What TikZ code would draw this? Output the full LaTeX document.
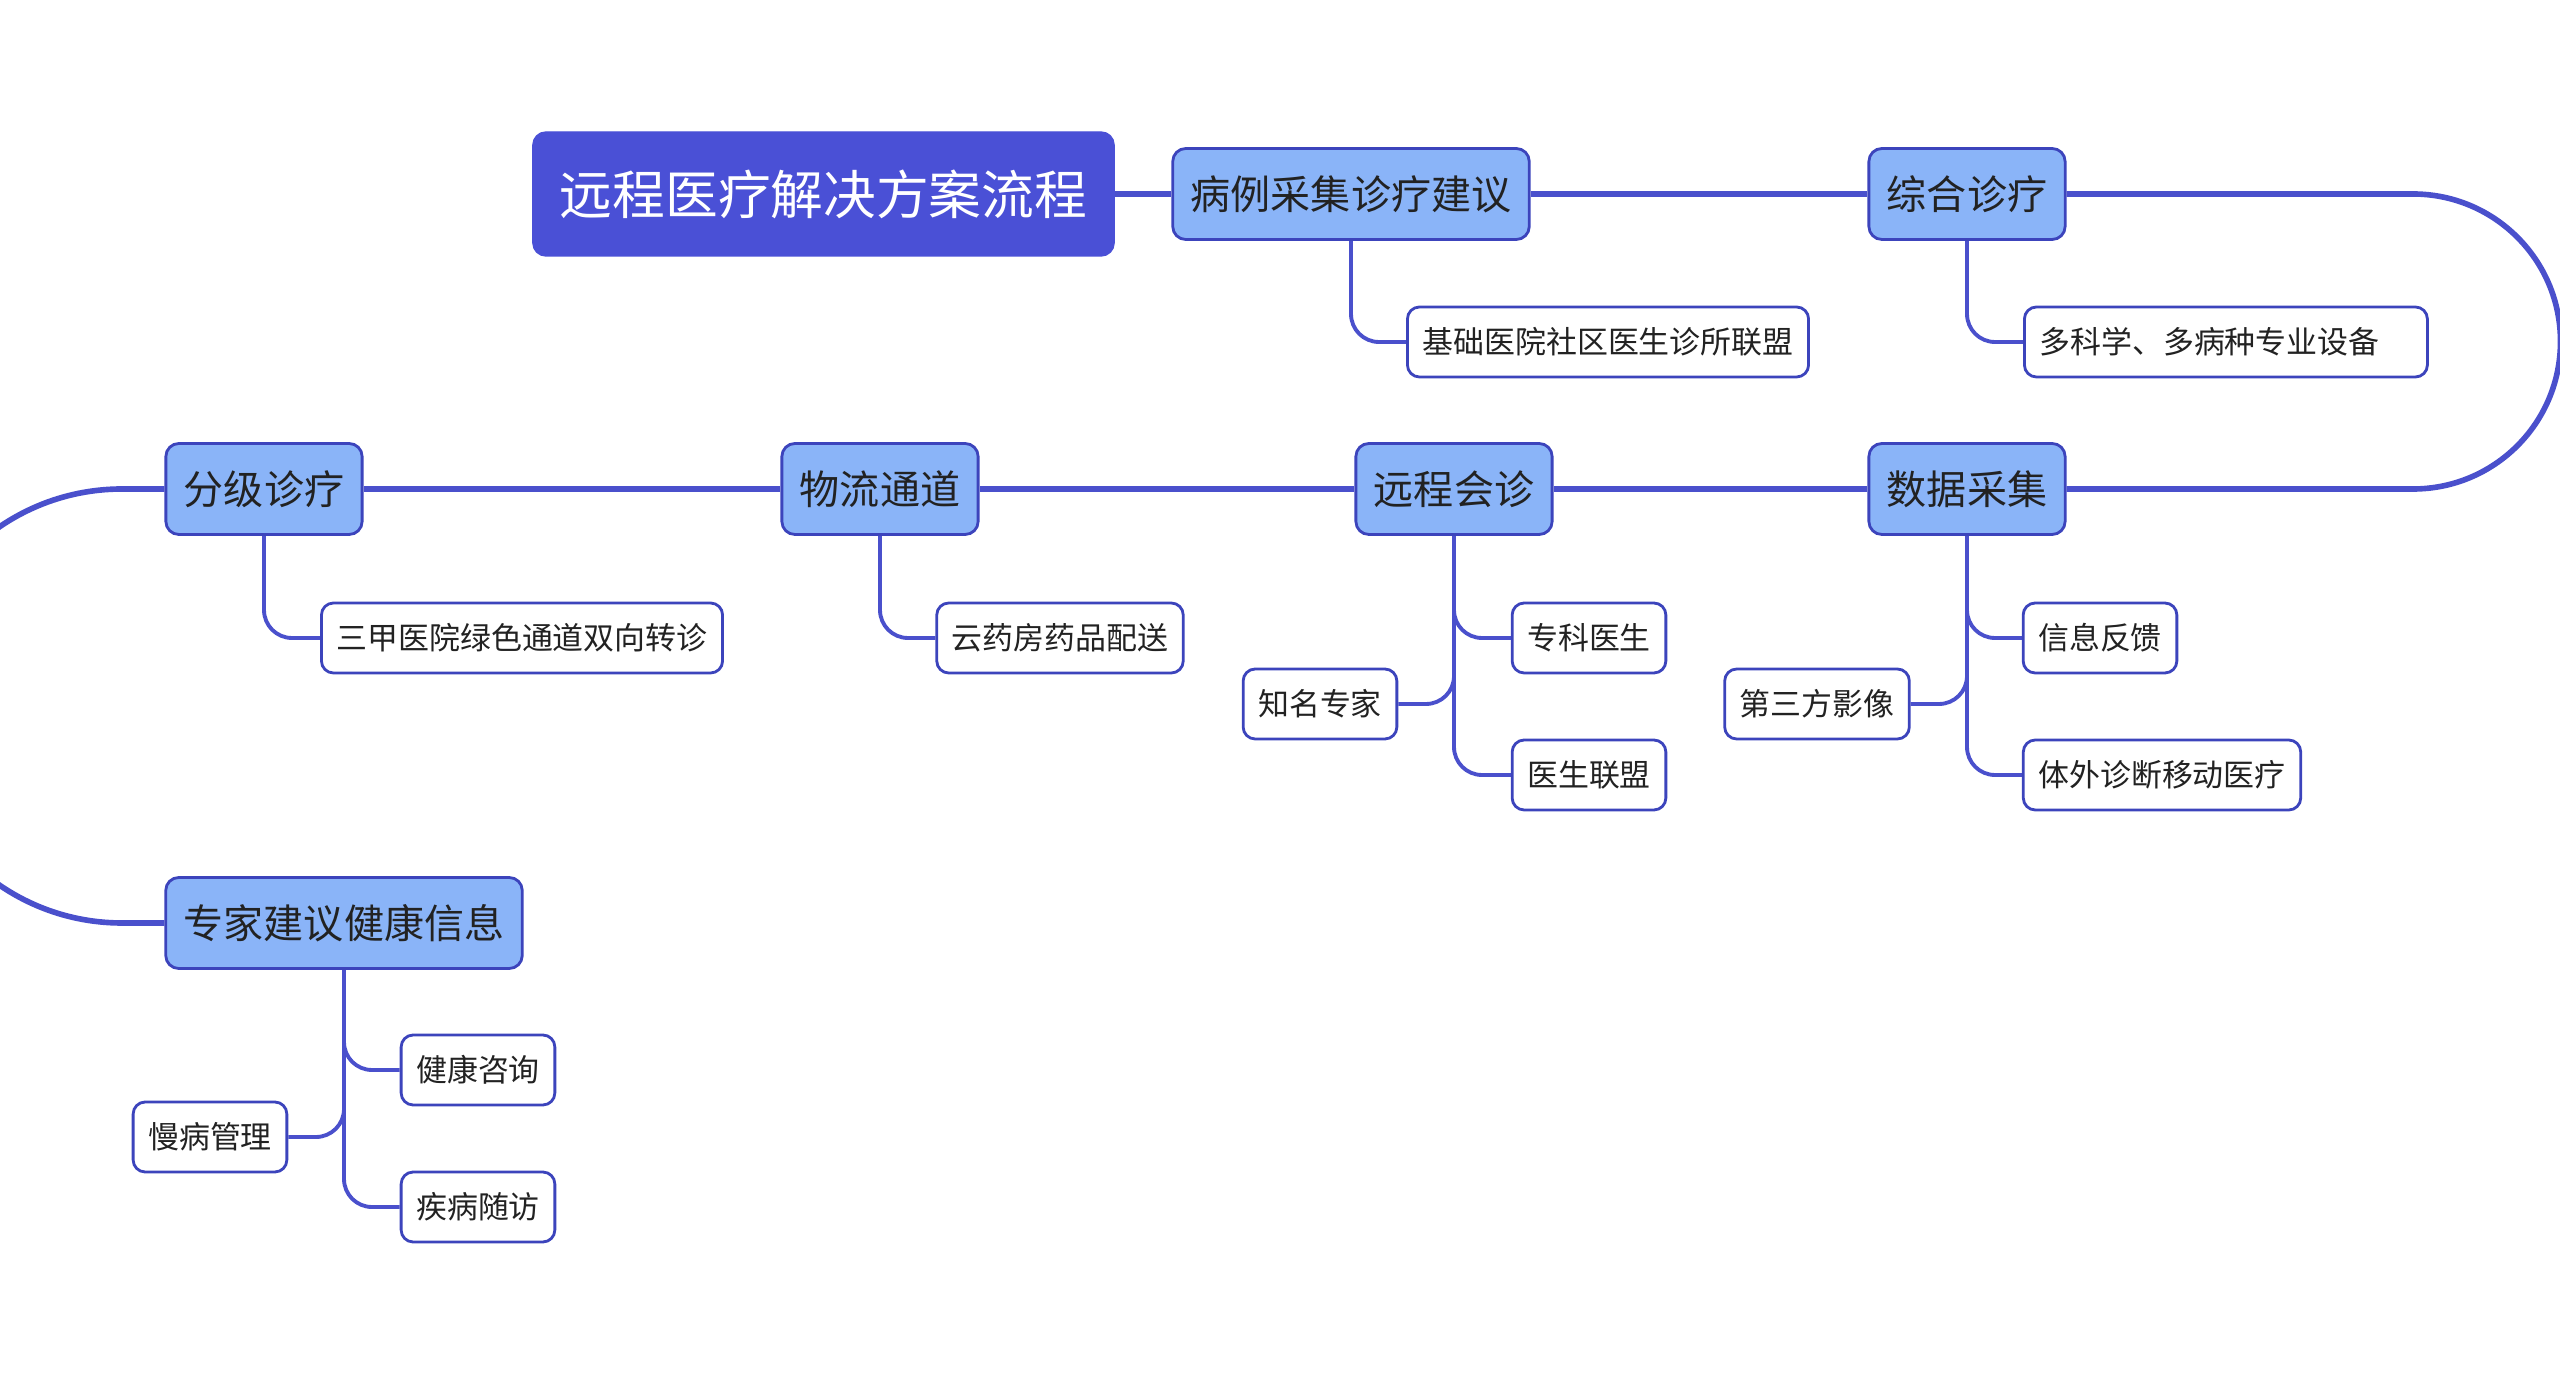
\documentclass[tikz,border=0pt]{standalone}
\usepackage{fontspec}
\usepackage{tikz}
\usetikzlibrary{backgrounds,calc}
\setmainfont{Noto Sans CJK SC}
\definecolor{titleblue}{HTML}{4A50D6}
\definecolor{topicblue}{HTML}{8AB4F8}
\definecolor{edgeblue}{HTML}{3C44BC}
\definecolor{lineblue}{HTML}{4A50CC}
\definecolor{ink}{HTML}{222222}
\tikzset{
  title/.style={rectangle, rounded corners=0.13cm, fill=titleblue, draw=titleblue, text=white,
    font=\fontsize{15}{17}\selectfont, inner xsep=0.27cm, minimum height=1.24cm},
  topic/.style={rectangle, rounded corners=0.13cm, fill=topicblue, draw=edgeblue, line width=0.8pt,
    text=ink, font=\fontsize{11.4}{13}\selectfont, inner xsep=0.18cm, minimum height=0.91cm},
  subtopic/.style={rectangle, rounded corners=0.12cm, fill=white, draw=edgeblue, line width=0.8pt,
    text=ink, font=\fontsize{8.8}{10}\selectfont, inner xsep=0.15cm, minimum height=0.70cm},
  link/.style={draw=lineblue, line width=1.6pt},
  sublink/.style={draw=lineblue, line width=1.1pt, rounded corners=0.28cm}
}

\begin{document}
\begin{tikzpicture}
\useasboundingbox (0cm,0cm) rectangle (25.6cm,-13.75cm);
\begin{scope}
\clip (0cm,0cm) rectangle (25.6cm,-13.75cm);
% main topics
\node[title] (root) at (8.235cm,-1.94cm) {远程医疗解决方案流程};
\node[topic] (bingli) at (13.51cm,-1.94cm) {病例采集诊疗建议};
\node[topic] (zonghe) at (19.67cm,-1.94cm) {综合诊疗};
\node[topic] (shuju) at (19.67cm,-4.89cm) {数据采集};
\node[topic] (huizhen) at (14.54cm,-4.89cm) {远程会诊};
\node[topic] (wuliu) at (8.80cm,-4.89cm) {物流通道};
\node[topic] (fenji) at (2.64cm,-4.89cm) {分级诊疗};
\node[topic] (jianyi) at (3.44cm,-9.23cm) {专家建议健康信息};
% sub topics
\node[subtopic] (jichu) at (16.08cm,-3.42cm) {基础医院社区医生诊所联盟};
\node[subtopic, anchor=west, text width=3.73cm, align=left] (duoke) at (20.23cm,-3.42cm) {多科学、多病种专业设备};
\node[subtopic] (xinxi) at (21.00cm,-6.38cm) {信息反馈};
\node[subtopic] (tiwai) at (21.62cm,-7.75cm) {体外诊断移动医疗};
\node[subtopic] (disan) at (18.17cm,-7.04cm) {第三方影像};
\node[subtopic] (zhuanke) at (15.89cm,-6.38cm) {专科医生};
\node[subtopic] (lianmeng) at (15.89cm,-7.75cm) {医生联盟};
\node[subtopic] (zhiming) at (13.20cm,-7.04cm) {知名专家};
\node[subtopic] (yunyao) at (10.60cm,-6.38cm) {云药房药品配送};
\node[subtopic] (sanjia) at (5.22cm,-6.38cm) {三甲医院绿色通道双向转诊};
\node[subtopic] (zixun) at (4.78cm,-10.70cm) {健康咨询};
\node[subtopic] (suifang) at (4.78cm,-12.07cm) {疾病随访};
\node[subtopic] (manbing) at (2.10cm,-11.37cm) {慢病管理};
% connectors
\begin{scope}[on background layer]
\draw[link] (root.east) -- (bingli.west);
\draw[link] (bingli.east) -- (zonghe.west);
\draw[link] (zonghe.east) -- (24.13cm,-1.94cm) arc[start angle=90, end angle=-90, radius=1.475cm] -- (shuju.east);
\draw[link] (shuju.west) -- (huizhen.east);
\draw[link] (huizhen.west) -- (wuliu.east);
\draw[link] (wuliu.west) -- (fenji.east);
\draw[link] (fenji.west) -- (1.22cm,-4.89cm) arc[start angle=90, end angle=270, radius=2.17cm] -- (jianyi.west);
\draw[sublink] (bingli.south) |- (jichu.west);
\draw[sublink] (zonghe.south) |- (duoke.west);
\draw[sublink] (shuju.south) |- (xinxi.west);
\draw[sublink] (shuju.south) |- (tiwai.west);
\draw[sublink] (disan.east) -| (shuju.south);
\draw[sublink] (huizhen.south) |- (zhuanke.west);
\draw[sublink] (huizhen.south) |- (lianmeng.west);
\draw[sublink] (zhiming.east) -| (huizhen.south);
\draw[sublink] (wuliu.south) |- (yunyao.west);
\draw[sublink] (fenji.south) |- (sanjia.west);
\draw[sublink] (jianyi.south) |- (zixun.west);
\draw[sublink] (jianyi.south) |- (suifang.west);
\draw[sublink] (manbing.east) -| (jianyi.south);
\end{scope}
\end{scope}
\end{tikzpicture}
\end{document}
